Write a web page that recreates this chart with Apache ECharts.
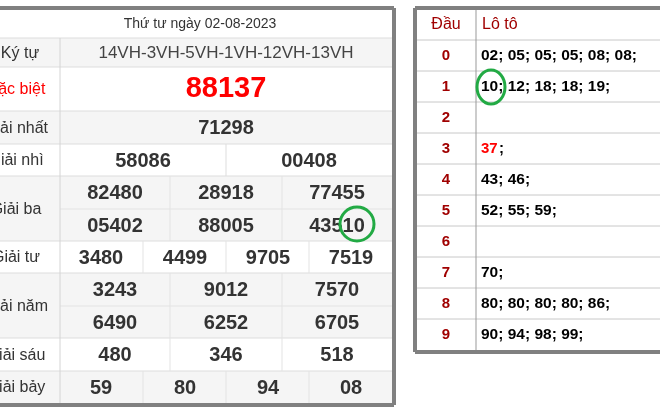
<!DOCTYPE html>
<html><head><meta charset="utf-8">
<script src="https://cdn.jsdelivr.net/npm/echarts@6/dist/echarts.min.js"></script>
<style>html,body{margin:0;padding:0;background:#fff}#c{width:660px;height:414px}</style>
</head><body><div id="c"></div>
<script>
const title = "Thứ tư ngày 02-08-2023";
const kyTu = "14VH-3VH-5VH-1VH-12VH-13VH";
const rowLabels = ["Ký tự","Đặc biệt","Giải nhất","Giải nhì","Giải ba","Giải tư","Giải năm","Giải sáu","Giải bảy"];
const giaiDB = ["88137"];
const giaiNhat = ["71298"];
const giaiNhi = ["58086","00408"];
const giaiBa = [["82480","28918","77455"],["05402","88005","43510"]];
const giaiTu = ["3480","4499","9705","7519"];
const giaiNam = [["3243","9012","7570"],["6490","6252","6705"]];
const giaiSau = ["480","346","518"];
const giaiBay = ["59","80","94","08"];
const dauLabels = ["0","1","2","3","4","5","6","7","8","9"];
const loto = ["02; 05; 05; 05; 08; 08;","10; 12; 18; 18; 19;","","37;","43; 46;","52; 55; 59;","","70;","80; 80; 80; 80; 86;","90; 94; 98; 99;"];

const F = "Liberation Sans, Arial, sans-serif";
const g = [];
const LX0 = -40, LX1 = 394, VX = 60;
function rect(x,y,w,h,fill){g.push({type:'rect',shape:{x,y,width:w,height:h},style:{fill},silent:true});}
function line(x1,y1,x2,y2,c,w){g.push({type:'line',shape:{x1,y1,x2,y2},style:{stroke:c,lineWidth:w||1},silent:true});}
function text(x,y,t,size,color,weight,align){g.push({type:'text',x,y,style:{text:t,font:(weight||'normal')+' '+size+'px '+F,fill:color,align:align||'center',verticalAlign:'middle'},silent:true});}

const rows = [[10,38],[38,67],[67,111],[111,144],[144,176],[176,241],[241,273],[273,338],[338,371],[371,403]];
rows.forEach((r,i)=>{ rect(LX0,r[0],LX1-LX0,r[1]-r[0], i%2===1?'#f5f5f5':'#ffffff'); });
rows.forEach((r,i)=>{ if(i>0) line(LX0,r[0],LX1,r[0],'#dddddd',1); });
line(VX,209,LX1,209,'#e3e3e3',1); line(VX,306,LX1,306,'#e3e3e3',1);
line(VX,38,VX,403,'#d4d4d4',1);
text(200,24,title,14,'#333');
rowLabels.forEach((l,i)=>{ const r=rows[i+1]; text(i===0?20:16,(r[0]+r[1])/2+1,l,16,i===1?'#ff0000':'#333','normal','center'); });
text(226,53,kyTu,17,'#444');
text(226,89,giaiDB[0],29,'#ff0000','bold');
text(226,128,giaiNhat[0],20,'#333','bold');
line(226,144,226,176,'#dddddd');
giaiNhi.forEach((v,i)=>text([143,309][i],161,v,20,'#333','bold'));
const c3 = [115,226,337], s3=[170,282];
function row3(vals,top,bot){ s3.forEach(x=>line(x,top,x,bot,'#e3e3e3')); vals.forEach((v,i)=>text(c3[i],(top+bot)/2+1,v,20,'#333','bold')); }
const c4 = [101,185,268,351], s4=[143,226,309];
function row4(vals,top,bot){ s4.forEach(x=>line(x,top,x,bot,'#e3e3e3')); vals.forEach((v,i)=>text(c4[i],(top+bot)/2+1,v,20,'#333','bold')); }
row3(giaiBa[0],176,209); row3(giaiBa[1],209,241);
row4(giaiTu,241,273);
row3(giaiNam[0],273,306); row3(giaiNam[1],306,338);
row3(giaiSau,338,371);
row4(giaiBay,371,403);
line(LX0,8,LX1,8,'#808080',4);
line(LX1,8,LX1,405,'#808080',4);
line(LX0,405,LX1,405,'#808080',4);
g.push({type:'ellipse',shape:{cx:357,cy:224,rx:17,ry:17},style:{fill:null,stroke:'#22aa44',lineWidth:3},silent:true});

const RX0=415, RX1=700, RV=476;
rect(RX0,8,RX1-RX0,344,'#fff');
const rt=[10,40]; for(let i=0;i<10;i++) rt.push(40+31*(i+1));
for(let i=1;i<rt.length-1;i++) line(RX0,rt[i],RX1,rt[i],'#c8c8c8',1);
line(RV,10,RV,350,'#999',1);
text(446,25,'Đầu',16,'#a00000','normal');
text(482,25,'Lô tô',16,'#a00000','normal','left');
dauLabels.forEach((d,i)=>{ const cy=40+31*i+16; text(446,cy,d,15,'#a00000','bold'); });
loto.forEach((t,i)=>{ const cy=40+31*i+16;
  if(i===3){ text(481,cy,'37',15,'#ff0000','bold','left'); text(499,cy,';',15,'#000','bold','left'); }
  else text(481,cy,t,15.5,'#000','bold','left'); });
line(RX0,8,RX1,8,'#808080',4);
line(RX0,8,RX0,352,'#808080',4);
line(RX0,352,RX1,352,'#808080',4);
g.push({type:'ellipse',shape:{cx:491,cy:87,rx:14,ry:17},style:{fill:null,stroke:'#22aa44',lineWidth:3},silent:true});

const chart = echarts.init(document.getElementById('c'));
chart.setOption({animation:false,graphic:{elements:g}});
</script></body></html>
